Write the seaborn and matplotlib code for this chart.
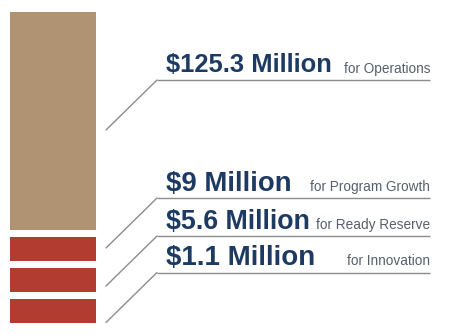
import matplotlib
matplotlib.use("Agg")
import matplotlib.pyplot as plt
import seaborn as sns
import pandas as pd

# ---- data ----
amounts = ["$125.3 Million", "$9 Million", "$5.6 Million", "$1.1 Million"]
values_musd = [125.3, 9.0, 5.6, 1.1]
purposes = ["for Operations", "for Program Growth", "for Ready Reserve", "for Innovation"]
block_units = [9, 1, 1, 1]          # relative visual height of each block
block_kind = ["tan", "red", "red", "red"]

sns.set_theme(style="white")
plt.rcParams["font.family"] = ["Liberation Sans", "DejaVu Sans"]

palette = {"tan": "#b09372", "red": "#b13c2f"}
navy = "#1d3a62"
small_col = "#56606b"
line_col = "#8c8c8c"

fig = plt.figure(figsize=(4.57, 3.36), dpi=100)
ax = fig.add_axes([0, 0, 1, 1])
ax.set_xlim(0, 457)
ax.set_ylim(336, 0)
ax.axis("off")

df = pd.DataFrame({"amount": amounts, "value": values_musd, "purpose": purposes,
                   "units": block_units, "kind": block_kind})

# stacked blocks
unit_px = 24.2
gap_px = 7
top = 12
bottoms = []
y = top
for u in df["units"]:
    bottoms.append(y)
    y += u * unit_px + gap_px
df["start"] = bottoms
df["height"] = df["units"] * unit_px

ax.bar(x=[53] * len(df), height=df["height"], bottom=df["start"], width=86,
       color=[palette[k] for k in df["kind"]], edgecolor="none", align="center")

# labels & leader lines
rule_y = [80, 198, 236, 272.5]
big_sizes = [18.4, 19.8, 19.3, 20]
for i, row in df.iterrows():
    ry = rule_y[i]
    ax.plot([157, 430], [ry, ry], color=line_col, lw=1.0, solid_capstyle="butt")
    ax.plot([106, 157], [ry + 50, ry], color=line_col, lw=1.0)
    ax.text(166, ry - 7.5, row["amount"], fontsize=big_sizes[i], fontweight="bold",
            color=navy, ha="left", va="baseline")
    ax.text(430, ry - 7.5, row["purpose"], fontsize=9.8, color=small_col,
            ha="right", va="baseline")

fig.savefig("out.png", dpi=100)
